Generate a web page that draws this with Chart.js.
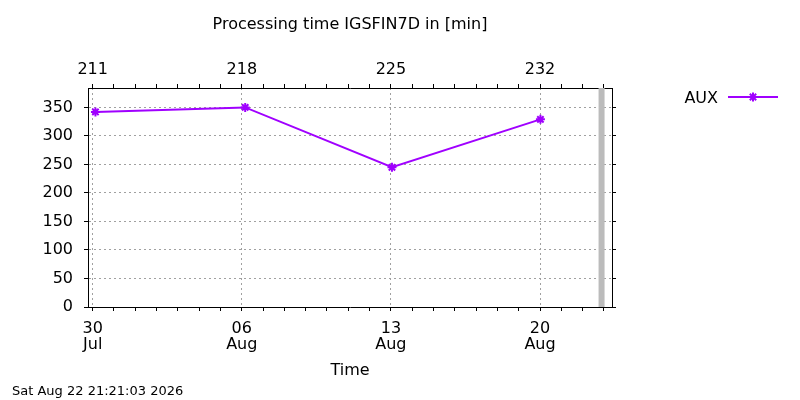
<!DOCTYPE html>
<html>
<head>
<meta charset="utf-8">
<title>Processing time IGSFIN7D</title>
<script src="https://cdn.jsdelivr.net/npm/chart.js"></script>
<style>
    html, body { margin: 0; padding: 0; background: #ffffff; }
    #wrap { width: 800px; height: 400px; position: relative; }
</style>
</head>
<body>
<div id="wrap"><canvas id="procChart" width="800" height="400"></canvas></div>
<script>
// ========= data (x = day of year 2026) =========
const auxDays   = [211.13, 218.16, 225.05, 232.02];
const auxValues = [342, 350, 245, 329];

// "now" marker (Sat Aug 22 21:21:03 2026 -> day 234.89)
const nowDay = 234.89;

// axis ranges / ticks
const xMin = 210.78;
const xMax = 235.38;
const yMin = 0;
const yMax = 384;
const majorDays   = [211, 218, 225, 232];
const majorLabels = [["30", "Jul"], ["06", "Aug"], ["13", "Aug"], ["20", "Aug"]];
const firstDay = 211;
const lastDay  = 235;

const chartTitle  = "Processing time IGSFIN7D in [min]";
const xTitle      = "Time";
const seriesName  = "AUX";
const stampText   = "Sat Aug 22 21:21:03 2026";

const purple = "#a000ff";
const gridGray = "#a0a0a0";
const FONT = "'DejaVu Sans', sans-serif";

function dayTicks(scale) {
    const t = [];
    for (let d = firstDay; d <= lastDay; d++) t.push({ value: d });
    scale.ticks = t;
}
function isMajor(v) {
    return majorDays.indexOf(Math.round(v)) !== -1;
}
function yTicks(scale) {
    const t = [];
    for (let v = 0; v <= 350; v += 50) t.push({ value: v });
    scale.ticks = t;
}

// ====== texts outside the axes: title, legend, time stamp ======
const decorPlugin = {
    id: "decor",
    afterDraw(chart) {
        const ctx = chart.ctx;
        ctx.save();
        ctx.fillStyle = "#000";
        ctx.textBaseline = "middle";

        ctx.font = "16px " + FONT;
        ctx.textAlign = "center";
        ctx.fillText(chartTitle, 350, 25);

        // legend
        ctx.textAlign = "right";
        ctx.fillText(seriesName, 718, 99);
        ctx.strokeStyle = purple;
        ctx.lineWidth = 2;
        ctx.beginPath();
        ctx.moveTo(728, 97);
        ctx.lineTo(778, 97);
        ctx.stroke();
        if (Chart.helpers && Chart.helpers.drawPoint) {
            Chart.helpers.drawPoint(ctx, {
                pointStyle: "star", radius: 4.5, borderWidth: 2, rotation: 0
            }, 753, 97);
        }

        ctx.font = "13px " + FONT;
        ctx.textAlign = "left";
        ctx.fillText(stampText, 12, 392);
        ctx.restore();
    }
};

document.addEventListener("DOMContentLoaded", () => {
    const ctx = document.getElementById("procChart");

    const tickFont = { family: FONT, size: 16, lineHeight: 1.05 };

    new Chart(ctx, {
        type: "line",
        data: {
            datasets: [
                {
                    label: seriesName,
                    data: auxDays.map((d, i) => ({ x: d, y: auxValues[i] })),
                    borderColor: purple,
                    backgroundColor: purple,
                    borderWidth: 2,
                    pointStyle: "star",
                    pointRadius: 4.5,
                    pointBorderWidth: 2,
                    tension: 0,
                    xAxisID: "x",
                    yAxisID: "y"
                },
                {
                    label: "now",
                    data: [{ x: nowDay, y: yMin }, { x: nowDay, y: yMax }],
                    borderColor: "#bbbbbb",
                    borderWidth: 6,
                    pointRadius: 0,
                    xAxisID: "x",
                    yAxisID: "y"
                }
            ]
        },
        options: {
            responsive: false,
            animation: false,
            devicePixelRatio: 1,
            layout: { padding: 0 },
            plugins: {
                legend: { display: false },
                title: { display: false },
                tooltip: { enabled: false }
            },
            scales: {
                x: {
                    type: "linear",
                    position: "bottom",
                    min: xMin,
                    max: xMax,
                    afterBuildTicks: dayTicks,
                    afterFit: (s) => { s.height = 93; },
                    ticks: {
                        autoSkip: false,
                        maxRotation: 0,
                        padding: 9,
                        color: "#000",
                        font: tickFont,
                        callback: (v) => {
                            const i = majorDays.indexOf(Math.round(v));
                            return i === -1 ? "" : majorLabels[i];
                        }
                    },
                    grid: {
                        color: (c) => (c.tick && isMajor(c.tick.value)) ? gridGray : "rgba(0,0,0,0)",
                        tickColor: "#000",
                        tickLength: 4,
                        lineWidth: 1
                    },
                    border: { display: true, color: "#000", width: 1, dash: [2, 3] },
                    title: {
                        display: true,
                        text: xTitle,
                        color: "#000",
                        font: { family: FONT, size: 16 },
                        padding: { top: 4, bottom: 20 }
                    }
                },
                x2: {
                    type: "linear",
                    position: "top",
                    min: xMin,
                    max: xMax,
                    afterBuildTicks: dayTicks,
                    afterFit: (s) => { s.height = 88; },
                    ticks: {
                        autoSkip: false,
                        maxRotation: 0,
                        padding: 6,
                        color: "#000",
                        font: tickFont,
                        callback: (v) => isMajor(v) ? String(Math.round(v)) : ""
                    },
                    grid: {
                        drawOnChartArea: false,
                        tickColor: "#000",
                        tickLength: 4
                    },
                    border: { display: true, color: "#000", width: 1 }
                },
                y: {
                    type: "linear",
                    position: "left",
                    min: yMin,
                    max: yMax,
                    afterFit: (s) => { s.width = 88; },
                    afterBuildTicks: yTicks,
                    ticks: {
                        padding: 11,
                        color: "#000",
                        font: tickFont
                    },
                    grid: {
                        color: (c) => (c.tick && c.tick.value > 0) ? gridGray : "rgba(0,0,0,0)",
                        tickColor: "#000",
                        tickLength: 4
                    },
                    border: { display: true, color: "#000", width: 1, dash: [2, 3] }
                },
                y2: {
                    type: "linear",
                    position: "right",
                    min: yMin,
                    max: yMax,
                    afterFit: (s) => { s.width = 188; },
                    afterBuildTicks: yTicks,
                    ticks: { display: true, callback: () => "" },
                    grid: {
                        drawOnChartArea: false,
                        tickColor: "#000",
                        tickLength: 4
                    },
                    border: { display: true, color: "#000", width: 1 }
                }
            }
        },
        plugins: [decorPlugin]
    });
});
</script>
</body>
</html>
